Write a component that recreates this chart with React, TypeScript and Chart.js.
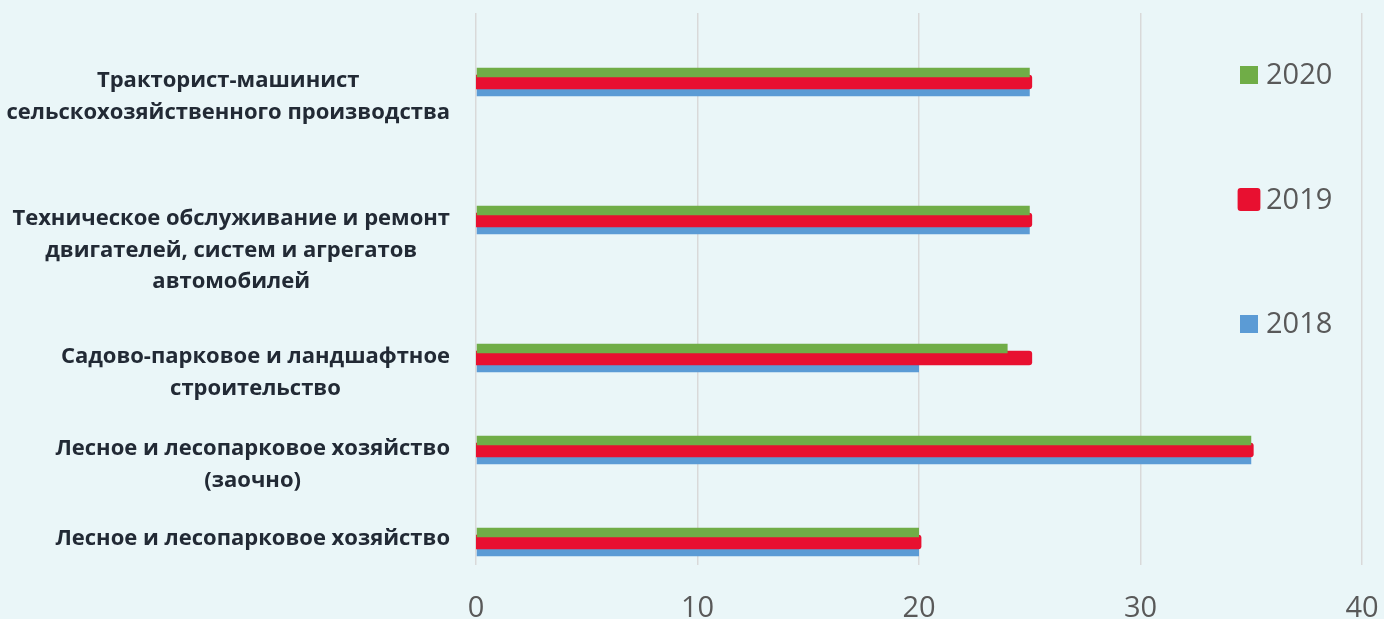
import React, { useEffect, useRef } from "react";
import { Chart, registerables } from "chart.js";

Chart.register(...registerables);

const categories: (string | string[])[] = [
  "",
  ["Тракторист-машинист", "сельскохозяйственного производства"],
  "",
  "",
  ["Техническое обслуживание и ремонт", "двигателей, систем и агрегатов", "автомобилей"],
  "",
  "",
  ["Садово-парковое и ландшафтное", "строительство"],
  "",
  ["Лесное и лесопарковое хозяйство", "(заочно)"],
  "",
  ["Лесное и лесопарковое хозяйство"],
];

const seriesNames = ["2020", "2019", "2018"];
const values2020 = [null, 25, null, null, 25, null, null, 24, null, 35, null, 20];
const values2019 = [null, 25, null, null, 25, null, null, 25, null, 35, null, 20];
const values2018 = [null, 25, null, null, 25, null, null, 20, null, 35, null, 20];
const xTicks = [0, 10, 20, 30, 40];

const GREEN = "#70ad47";
const RED = "#e81030";
const BLUE = "#5b9bd5";
const BG = "#eaf6f8";
const TICK_FONT = "'Open Sans', sans-serif";

const categoryLabelsPlugin = {
  id: "categoryLabels",
  afterDraw(chart: any) {
    const { ctx, chartArea } = chart;
    const yScale = chart.scales.y;
    const labels = chart.data.labels as (string | string[])[];
    ctx.save();
    ctx.font = "bold 22px 'Open Sans', sans-serif";
    ctx.fillStyle = "#222a35";
    ctx.textBaseline = "alphabetic";
    ctx.textAlign = "center";
    const right = chartArea.left - 26;
    const lineGap = 31.5;
    labels.forEach((lab, i) => {
      const lines = Array.isArray(lab) ? lab : lab ? [lab] : [];
      if (!lines.length) return;
      const w = Math.max(...lines.map((l) => ctx.measureText(l).width));
      const cx = right - w / 2;
      const y0 = yScale.getPixelForValue(i) + (lines.length > 1 ? 5 : 3);
      lines.forEach((l, k) => ctx.fillText(l, cx, y0 + k * lineGap));
    });
    ctx.restore();
  },
};

const legendPlugin = {
  id: "sideLegend",
  afterDraw(chart: any) {
    const { ctx, chartArea } = chart;
    ctx.save();
    ctx.font = "29px " + TICK_FONT;
    ctx.textBaseline = "middle";
    ctx.textAlign = "left";
    const boxX = chartArea.right - 122;
    const startY = chartArea.top + 62;
    const step = 124.5;
    chart.data.datasets.forEach((ds: any, i: number) => {
      const cy = startY + i * step;
      const size = 18;
      const infl = typeof ds.inflateAmount === "number" ? ds.inflateAmount : 0;
      ctx.fillStyle = ds.backgroundColor;
      const x = boxX - infl;
      const y = cy - size / 2 - infl;
      const s = size + infl * 2;
      ctx.beginPath();
      if (infl > 0 && (ctx as any).roundRect) {
        (ctx as any).roundRect(x, y, s, s, 3);
      } else {
        ctx.rect(x, y, s, s);
      }
      ctx.fill();
      ctx.fillStyle = "#595959";
      ctx.fillText(ds.label, boxX + size + 8, cy + 1);
    });
    ctx.restore();
  },
};

export default function App() {
  const ref = useRef<HTMLCanvasElement | null>(null);

  useEffect(() => {
    document.body.style.margin = "0";
    document.body.style.background = BG;
    if (!ref.current) return;
    const chart = new Chart(ref.current, {
      type: "bar",
      data: {
        labels: categories as any,
        datasets: [
          {
            label: seriesNames[0],
            data: values2020,
            backgroundColor: GREEN,
          },
          {
            label: seriesNames[1],
            data: values2019,
            backgroundColor: RED,
            inflateAmount: 2.4,
            borderRadius: 3,
          } as any,
          {
            label: seriesNames[2],
            data: values2018,
            backgroundColor: BLUE,
          },
        ],
      },
      options: {
        indexAxis: "y",
        animation: false,
        responsive: false,
        events: [],
        datasets: {
          bar: {
            categoryPercentage: 0.624,
            barPercentage: 1,
          },
        },
        layout: {
          padding: { left: 476, right: 22, top: 13, bottom: 0 },
        },
        plugins: {
          legend: { display: false },
          tooltip: { enabled: false },
        },
        scales: {
          x: {
            min: xTicks[0],
            max: xTicks[xTicks.length - 1],
            afterBuildTicks: (scale: any) => {
              scale.ticks = xTicks.map((v) => ({ value: v }));
            },
            afterFit: (scale: any) => {
              scale.height = 54;
              scale.paddingLeft = 0;
              scale.paddingRight = 0;
            },
            grid: {
              color: "#d9d9d9",
              lineWidth: 1.5,
              drawTicks: false,
            },
            border: { display: false },
            ticks: {
              padding: 26,
              color: "#595959",
              font: { size: 29, family: TICK_FONT },
            },
          },
          y: {
            display: false,
            grid: { display: false },
          },
        },
      },
      plugins: [categoryLabelsPlugin, legendPlugin],
    });
    return () => chart.destroy();
  }, []);

  return (
    <div style={{ width: 1384, height: 619, background: BG }}>
      <canvas ref={ref} width={1384} height={619} style={{ display: "block" }} />
    </div>
  );
}
